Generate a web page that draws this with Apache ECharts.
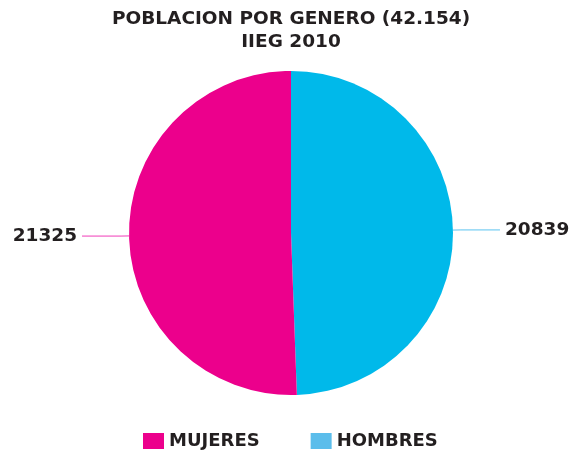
<!DOCTYPE html>
<html><head><meta charset="utf-8">
<script src="https://cdn.jsdelivr.net/npm/echarts@6/dist/echarts.min.js"></script>
<style>html,body{margin:0;padding:0;background:#fff}#c{width:570px;height:451px}</style>
</head><body><div id="c"></div>
<script>
const categories = ['HOMBRES', 'MUJERES'];
const values = [20839, 21325];
const sliceColors = ['#00B9EA', '#EC008C'];
const legendColors = ['#5BBDEB', '#EC008C'];
const lineColors = ['#5BC3F0', '#F03CB8'];
const titleText = 'POBLACION POR GENERO (42.154)\nIIEG 2010';

const chart = echarts.init(document.getElementById('c'));
const font = 'DejaVu Sans';
chart.setOption({
  animation: false,
  title: {
    text: titleText, left: 286, textAlign: 'center', top: 3,
    textStyle: { fontFamily: font, fontSize: 18.5, fontWeight: 'bold', color: '#231F20', lineHeight: 22.5 }
  },
  legend: {
    top: 427, left: 138, itemWidth: 21, itemHeight: 16, itemGap: 51,
    icon: 'rect',
    data: [
      { name: 'MUJERES', itemStyle: { color: legendColors[1] } },
      { name: 'HOMBRES', itemStyle: { color: legendColors[0] } }
    ],
    textStyle: { fontFamily: font, fontSize: 18, fontWeight: 'bold', color: '#231F20' }
  },
  series: [{
    type: 'pie', center: [291, 233], radius: 162, startAngle: 90, clockwise: true,
    data: categories.map((c, i) => ({
      name: c, value: values[i],
      itemStyle: { color: sliceColors[i] },
      labelLine: { lineStyle: { color: lineColors[i], width: 1 } }
    })),
    label: { show: true, formatter: '{c}', overflow: 'none', fontFamily: font, fontSize: 18.5, fontWeight: 'bold', color: '#231F20' },
    labelLine: { show: true, length: 8, length2: 39, smooth: false },
    emphasis: { disabled: true }
  }]
});
</script></body></html>
